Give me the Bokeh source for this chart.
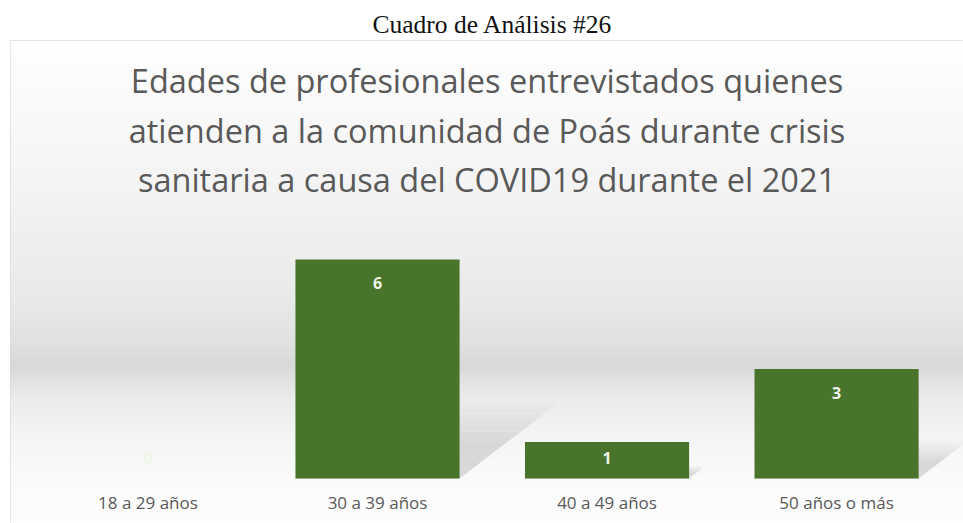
import numpy as np
from bokeh.plotting import figure
from bokeh.models import Range1d, BoxAnnotation, Label, FixedTicker
from bokeh.embed import file_html
from bokeh.resources import INLINE
from bokeh.core.properties import value

# ---------------- data ----------------
caption = "Cuadro de Análisis #26"
title_lines = [
    "Edades de profesionales entrevistados quienes",
    "atienden a la comunidad de Poás durante crisis",
    "sanitaria a causa del COVID19 durante el 2021",
]
categories = ["18 a 29 años", "30 a 39 años", "40 a 49 años", "50 años o más"]
counts = [0, 6, 1, 3]

# ---------------- layout ----------------
W, H = 963, 523
FRAME_TOP, FRAME_LEFT = 40, 10
FRAME_H = H - FRAME_TOP
x_start, x_end = -0.599, 3.553
y_start, y_end = -1.233, 12.0
px_per_y = FRAME_H / (y_end - y_start)

idx = list(range(len(categories)))
vals = np.array(counts, dtype=float)

p = figure(width=W, height=H, output_backend="svg", toolbar_location=None,
           x_range=Range1d(x_start, x_end), y_range=Range1d(y_start, y_end),
           min_border_left=FRAME_LEFT, min_border_right=0, min_border_top=FRAME_TOP,
           min_border_bottom=0, border_fill_color="white",
           background_fill_color="white", outline_line_color="#d9d9d9",
           outline_line_width=1)

# caption above the chart box
p.title.text = caption
p.title.text_font = "Liberation Serif"
p.title.text_font_size = "25.5px"
p.title.text_font_style = "normal"
p.title.text_color = "#111111"
p.title.align = "left"
p.title.offset = 362
p.title.standoff = 3

# vertical background gradient (page y -> gray level)
stop_y = [40, 100, 200, 300, 345, 366, 374, 400, 440, 478, 523]
stop_g = [255, 250, 242, 233, 224, 216, 223, 235, 245, 250, 253]
for py in range(40, 523, 2):
    g = int(round(np.interp(py + 1, stop_y, stop_g)))
    top = y_end - (py - 40) / px_per_y
    bot = y_end - (py - 40 + 3) / px_per_y
    p.add_layout(BoxAnnotation(bottom=bot, top=top, fill_color=(g, g, g),
                               fill_alpha=1.0, line_color=None, level="underlay"))

# bar shadows (perspective, blurred by layering)
bar_w = 0.715
for s in [1.3, 1.2, 1.1, 1.0, 0.9, 0.8, 0.7, 0.6]:
    xs, ys = [], []
    for i, v in zip(idx, vals):
        if v <= 0:
            continue
        xl, xr = i - bar_w / 2, i + bar_w / 2
        dx, dy = 0.055 * v * s, 0.265 * v * s
        xs.append([xl, xr, xr + dx, xl + dx])
        ys.append([0, 0, dy, dy])
    p.patches(xs, ys, fill_color="#6f6f6f", fill_alpha=0.028, line_color=None)

# bars
p.vbar(x=idx, top=counts, bottom=0, width=bar_w, fill_color="#48752b",
       line_color=None)

# data labels (inside end)
label_y = np.maximum(vals - 0.65, 0.55)
p.text(x=idx, y=list(label_y), text=[str(c) for c in counts],
       text_font=value("Open Sans"), text_font_style="bold",
       text_font_size="16px", text_color="#eef5e8",
       text_align="center", text_baseline="middle")

# chart title inside the box
title_y = [(478 - py) / 36.5 for py in (80, 130, 179)]
x_mid = (x_start + x_end) / 2
for t, ty in zip(title_lines, title_y):
    p.add_layout(Label(x=x_mid, y=ty, text=t, text_align="center",
                       text_baseline="alphabetic", text_font="Open Sans",
                       text_font_size="32.5px", text_color="#595959"))

# category axis at y = 0
p.xaxis.ticker = FixedTicker(ticks=idx)
p.xaxis.major_label_overrides = {i: c for i, c in zip(idx, categories)}
p.xaxis.fixed_location = 0
p.xaxis.axis_line_color = None
p.xaxis.major_tick_line_color = None
p.xaxis.minor_tick_line_color = None
p.xaxis.major_tick_out = 0
p.xaxis.major_label_standoff = 13
p.xaxis.major_label_text_font = "Open Sans"
p.xaxis.major_label_text_font_size = "17px"
p.xaxis.major_label_text_color = "#595959"
p.yaxis.visible = False
p.xgrid.visible = False
p.ygrid.visible = False

open("out.html", "w").write(file_html(p, INLINE))
